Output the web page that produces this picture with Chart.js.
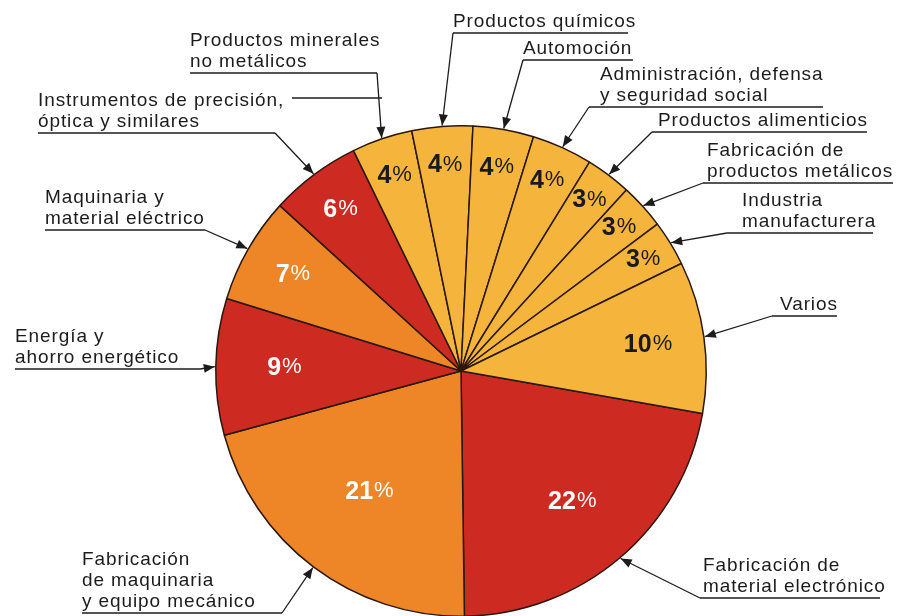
<!DOCTYPE html>
<html>
<head>
<meta charset="utf-8">
<script src="https://cdn.jsdelivr.net/npm/chart.js@4"></script>
<style>
  html, body { margin: 0; padding: 0; background: #fff; overflow: hidden; }
  #wrap { width: 909px; height: 640px; }
</style>
</head>
<body>
<div id="wrap"><canvas id="pie" width="909" height="640"></canvas></div>
<script>
// slice order starts at the "Fabricación de material electrónico" slice (3 o'clock) and goes clockwise
const categories = [
    ['Fabricación de', 'material electrónico'],
    ['Fabricación', 'de maquinaria', 'y equipo mecánico'],
    ['Energía y', 'ahorro energético'],
    ['Maquinaria y', 'material eléctrico'],
    ['Instrumentos de precisión,', 'óptica y similares'],
    ['Productos minerales', 'no metálicos'],
    ['Productos químicos'],
    ['Automoción'],
    ['Administración, defensa', 'y seguridad social'],
    ['Productos alimenticios'],
    ['Fabricación de', 'productos metálicos'],
    ['Industria', 'manufacturera'],
    ['Varios']
];
const shares = [22, 21, 9, 7, 6, 4, 4, 4, 4, 3, 3, 3, 10];

const RED = '#cd2a22', ORANGE = '#ee8527', YELLOW = '#f5b53d';
const sliceColors = [RED, ORANGE, RED, ORANGE, RED, YELLOW, YELLOW, YELLOW, YELLOW, YELLOW, YELLOW, YELLOW, YELLOW];
const pctColors = sliceColors.map(c => c === YELLOW ? '#1a1a1a' : '#ffffff');
// how far out (fraction of radius) each percentage sits
const pctRadius = [0.70, 0.62, 0.72, 0.79, 0.82, 0.84, 0.84, 0.84, 0.85, 0.87, 0.87, 0.87, 0.77];

// label layout: text x, underline y, underline x1/x2, leader start x
const labelLayout = [
    { x: 703, uy: 598, ux1: 700, ux2: 880, lx: 700 },
    { x: 82, uy: 613, ux1: 82, ux2: 282, lx: 282 },
    { x: 15, uy: 369, ux1: 15, ux2: 200, lx: 200 },
    { x: 45, uy: 230, ux1: 45, ux2: 205, lx: 205 },
    { x: 38, uy: 133, ux1: 38, ux2: 275, lx: 275 },
    { x: 190, uy: 73, ux1: 190, ux2: 377, lx: 377 },
    { x: 453, uy: 33, ux1: 453, ux2: 628, lx: 453 },
    { x: 523, uy: 60, ux1: 523, ux2: 633, lx: 523 },
    { x: 600, uy: 107, ux1: 589, ux2: 823, lx: 589 },
    { x: 658, uy: 132, ux1: 652, ux2: 867, lx: 652 },
    { x: 707, uy: 183, ux1: 703, ux2: 893, lx: 703 },
    { x: 742, uy: 233, ux1: 727, ux2: 873, lx: 727 },
    { x: 780, uy: 316, ux1: 772, ux2: 837, lx: 772 }
];
const LINE_H = 21;
const INK = '#1c1c1c';

function arrow(ctx, x1, y1, x2, y2) {
    ctx.beginPath();
    ctx.moveTo(x1, y1);
    ctx.lineTo(x2, y2);
    ctx.stroke();
    const a = Math.atan2(y2 - y1, x2 - x1);
    const len = 11, w = 4.5;
    ctx.beginPath();
    ctx.moveTo(x2, y2);
    ctx.lineTo(x2 - len * Math.cos(a) + w * Math.sin(a), y2 - len * Math.sin(a) - w * Math.cos(a));
    ctx.lineTo(x2 - len * Math.cos(a) - w * Math.sin(a), y2 - len * Math.sin(a) + w * Math.cos(a));
    ctx.closePath();
    ctx.fill();
}

const annotations = {
    id: 'annotations',
    afterDatasetsDraw(chart) {
        const ctx = chart.ctx;
        const arcs = chart.getDatasetMeta(0).data;
        ctx.save();

        // percentages inside the slices
        arcs.forEach((arc, i) => {
            const mid = (arc.startAngle + arc.endAngle) / 2;
            const r = arc.outerRadius * pctRadius[i];
            const px = arc.x + r * Math.cos(mid);
            const py = arc.y + r * Math.sin(mid);
            const num = String(shares[i]);
            ctx.font = 'bold 25px "Liberation Sans", Arial, sans-serif';
            const wn = ctx.measureText(num).width;
            ctx.font = '22px "Liberation Sans", Arial, sans-serif';
            const wp = ctx.measureText('%').width;
            const x0 = px - (wn + wp + 1) / 2;
            ctx.fillStyle = pctColors[i];
            ctx.textBaseline = 'middle';
            ctx.textAlign = 'left';
            ctx.font = 'bold 25px "Liberation Sans", Arial, sans-serif';
            ctx.fillText(num, x0, py);
            ctx.font = '22px "Liberation Sans", Arial, sans-serif';
            ctx.fillText('%', x0 + wn + 1, py - 1);
        });

        // outside labels with underline and leader arrow
        ctx.strokeStyle = INK;
        ctx.fillStyle = INK;
        ctx.lineWidth = 1.3;
        ctx.textBaseline = 'alphabetic';
        ctx.font = '19px "Liberation Sans", Arial, sans-serif';
        ctx.letterSpacing = '0.9px';
        arcs.forEach((arc, i) => {
            const L = labelLayout[i];
            const lines = categories[i];
            lines.forEach((t, k) => {
                const base = L.uy - 6 - (lines.length - 1 - k) * LINE_H;
                ctx.fillText(t, L.x, base);
            });
            ctx.beginPath();
            ctx.moveTo(L.ux1, L.uy);
            ctx.lineTo(L.ux2, L.uy);
            ctx.stroke();
            const mid = (arc.startAngle + arc.endAngle) / 2;
            const tx = arc.x + (arc.outerRadius + 1) * Math.cos(mid);
            const ty = arc.y + (arc.outerRadius + 1) * Math.sin(mid);
            arrow(ctx, L.lx, L.uy, tx, ty);
        });
        // dash trailing "Instrumentos de precisión," up to the minerales leader
        ctx.beginPath();
        ctx.moveTo(292, 98);
        ctx.lineTo(382, 98);
        ctx.stroke();
        ctx.restore();
    }
};

new Chart(document.getElementById('pie'), {
    type: 'pie',
    data: {
        labels: categories.map(l => l.join(' ')),
        datasets: [{
            data: shares,
            backgroundColor: sliceColors,
            borderColor: '#2a1810',
            borderWidth: 1.5
        }]
    },
    options: {
        responsive: false,
        animation: false,
        rotation: 100,
        layout: { padding: { left: 215, right: 202, top: 125, bottom: 23 } },
        plugins: {
            legend: { display: false },
            tooltip: { enabled: false }
        }
    },
    plugins: [annotations]
});
</script>
</body>
</html>
